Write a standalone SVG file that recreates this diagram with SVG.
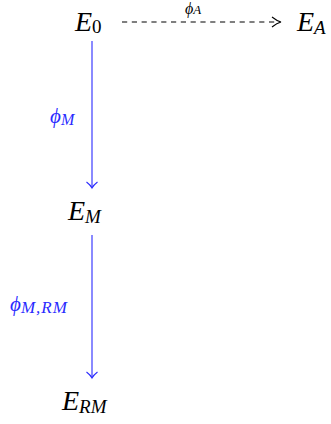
<svg xmlns="http://www.w3.org/2000/svg" width="331" height="424" viewBox="0 0 331 424">
<style>
.m{font-family:"Liberation Serif","DejaVu Serif",serif;font-style:italic;fill:#000}
.n{font-family:"Liberation Serif","DejaVu Serif",serif;font-style:normal;fill:#000}
.big{font-size:28px}
.sub{font-size:19px}
.lb{font-family:"Liberation Serif","DejaVu Serif",serif;font-style:italic;fill:#2a2aff}
.edge{fill:none;stroke-width:1.1}
.blue{stroke:#2a2aff}
.blk{stroke:#000}
</style>
<rect width="331" height="424" fill="#fff"/>
<g id="connectors">
  <g id="e-phiA">
    <path class="edge blk" d="M122,22 H280" stroke-dasharray="5.2,4.6"/>
    <path class="edge blk" d="M272,17 Q277,21 281,22 Q277,23 272,27"/>
    <text class="lb" x="185" y="14" font-size="16" style="fill:#000">ϕ<tspan font-size="13" dy="0">A</tspan></text>
  </g>
  <g id="e-phiM">
    <path class="edge blue" d="M92,41 V187"/>
    <path class="edge blue" d="M86.5,182 Q90.5,185 92,188 Q93.5,185 97.5,182"/>
    <text class="lb" x="50" y="123" font-size="21">ϕ<tspan font-size="16" dy="2">M</tspan></text>
  </g>
  <g id="e-phiMRM">
    <path class="edge blue" d="M92,235 V377"/>
    <path class="edge blue" d="M86.5,372 Q90.5,375 92,378 Q93.5,375 97.5,372"/>
    <text class="lb" x="10" y="311" font-size="21">ϕ<tspan font-size="17" dy="2" letter-spacing="1">M,RM</tspan></text>
  </g>
</g>
<g id="E0"><text class="m big" x="75" y="31">E<tspan class="n sub" dy="2">0</tspan></text></g>
<g id="EA"><text class="m big" x="297" y="31">E<tspan class="sub" dy="3">A</tspan></text></g>
<g id="EM"><text class="m big" x="68" y="220">E<tspan class="sub" dy="3">M</tspan></text></g>
<g id="ERM"><text class="m big" x="62" y="410">E<tspan class="sub" dy="3">RM</tspan></text></g>
</svg>
